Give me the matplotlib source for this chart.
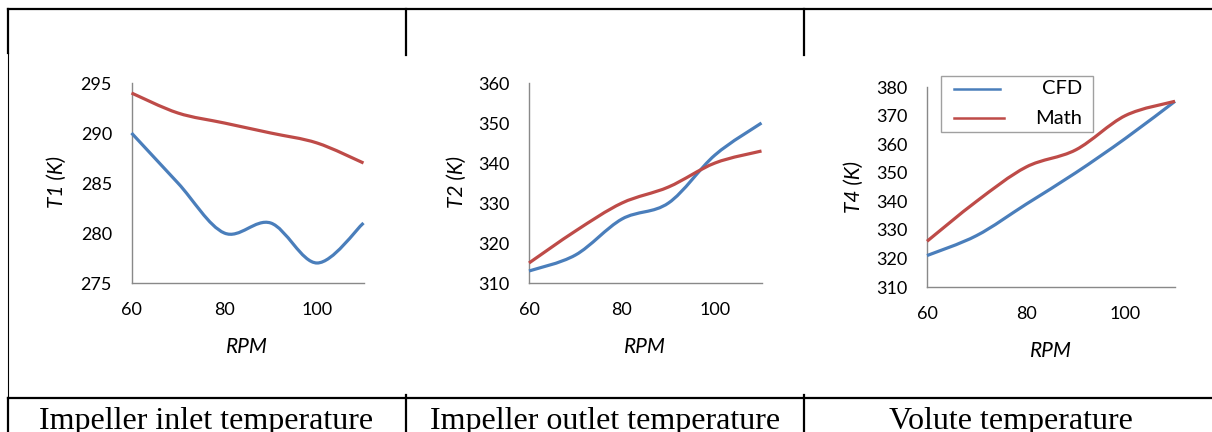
import numpy as np
import matplotlib.pyplot as plt
from matplotlib.path import Path
from matplotlib.patches import PathPatch, Rectangle
from matplotlib.lines import Line2D
from matplotlib.transforms import Affine2D

rpm = [60, 70, 80, 90, 100, 110]
t1_cfd = [290, 285, 280, 281, 277, 281]
t1_math = [294, 292, 291, 290, 289, 287]
t2_cfd = [313, 317, 326, 330, 342, 350]
t2_math = [315, 323, 330, 334, 340, 343]
t4_cfd = [321, 328, 339, 350, 362, 375]
t4_math = [326, 340, 352, 358, 370, 375]

captions = ['Impeller inlet temperature', 'Impeller outlet temperature', 'Volute temperature']
ylabels = ['T1 (K)', 'T2 (K)', 'T4 (K)']
yticks = [np.arange(275, 296, 5), np.arange(310, 361, 10), np.arange(310, 381, 10)]

BLUE = '#4a7ebb'
RED = '#be4b48'
W, H = 1212, 432
SANS = 'Lato'


def smooth_path(x, y):
    # excel-like smoothed line: bezier segments through the data points
    pts = np.column_stack([x, y]).astype(float)
    n = len(pts)
    verts = [pts[0]]
    codes = [Path.MOVETO]
    for i in range(n - 1):
        p0, p1 = pts[max(i - 1, 0)], pts[i]
        p2, p3 = pts[i + 1], pts[min(i + 2, n - 1)]
        verts += [p1 + (p2 - p0) / 6, p2 - (p3 - p1) / 6, p2]
        codes += [Path.CURVE4] * 3
    return Path(verts, codes)


fig = plt.figure(figsize=(W / 100, H / 100), dpi=100)
pxt = Affine2D().scale(1 / W, -1 / H).translate(0, 1) + fig.transFigure

# table grid
def hline(y, x0, x1, lw=1.6):
    fig.add_artist(Line2D([x0, x1], [y, y], color='black', lw=lw, transform=pxt))

def vline(x, y0, y1, lw=1.6):
    fig.add_artist(Line2D([x, x], [y0, y1], color='black', lw=lw, transform=pxt))

hline(9, 8, W)
hline(398, 8, W)
vline(8, 9, 53)
vline(8, 53, 398, lw=0.8)
vline(8, 398, H)
for x in (406, 804):
    vline(x, 9, 55)
    vline(x, 395, H)

# axes boxes in pixels: left, top, right, bottom
boxes = [(131.5, 83, 363.5, 283), (529, 83, 761.5, 283), (927, 87, 1175, 287)]
series = [(t1_cfd, t1_math), (t2_cfd, t2_math), (t4_cfd, t4_math)]
ylab_pos = [(57, 182), (457, 182), (854, 187)]
xlab_pos = [(247, 347), (645, 347), (1051, 351)]
cap_x = [206, 605, 1011]

axes = []
for i, (l, t, r, b) in enumerate(boxes):
    ax = fig.add_axes([l / W, 1 - b / H, (r - l) / W, (b - t) / H])
    cfd, math_ = series[i]
    ax.add_patch(PathPatch(smooth_path(rpm, cfd), fill=False, edgecolor=BLUE,
                           lw=2.3, clip_on=False, zorder=3))
    ax.add_patch(PathPatch(smooth_path(rpm, math_), fill=False, edgecolor=RED,
                           lw=2.3, clip_on=False, zorder=3))
    ax.set_xlim(60, 110)
    ax.set_ylim(yticks[i][0], yticks[i][-1])
    ax.set_xticks([60, 80, 100])
    ax.set_yticks(yticks[i])
    for s in ['top', 'right']:
        ax.spines[s].set_visible(False)
    for s in ['left', 'bottom']:
        ax.spines[s].set_color('#898989')
        ax.spines[s].set_linewidth(1.0)
    ax.tick_params(length=0, labelsize=13, pad=14)
    for lab in ax.get_xticklabels() + ax.get_yticklabels():
        lab.set_fontfamily(SANS)

    ax.set_ylabel(ylabels[i], fontsize=15, fontstyle='italic', family=SANS, va='center')
    ax.yaxis.set_label_coords(ylab_pos[i][0], ylab_pos[i][1], transform=pxt)
    ax.set_xlabel('RPM', fontsize=15, fontstyle='italic', family=SANS, va='center')
    ax.xaxis.set_label_coords(xlab_pos[i][0], xlab_pos[i][1], transform=pxt)

    fig.text(cap_x[i], 429, captions[i], transform=pxt, ha='center', va='baseline',
             family='Liberation Serif', fontsize=23)
    axes.append(ax)

# legend (box covers the curves like in the original)
fig.add_artist(Rectangle((941, 76), 152, 56, transform=pxt, facecolor='white',
                         edgecolor='#a0a0a0', lw=1.0, zorder=10))
fig.add_artist(Line2D([954, 1000], [89, 89], color=BLUE, lw=1.8, transform=pxt, zorder=11))
fig.add_artist(Line2D([954, 1004], [118, 118], color=RED, lw=1.8, transform=pxt, zorder=11))
fig.text(1082, 89, 'CFD', transform=pxt, ha='right', va='center', family=SANS,
         fontsize=14.5, zorder=11)
fig.text(1082, 118, 'Math', transform=pxt, ha='right', va='center', family=SANS,
         fontsize=14.5, zorder=11)

fig.savefig('out.png', dpi=100)
